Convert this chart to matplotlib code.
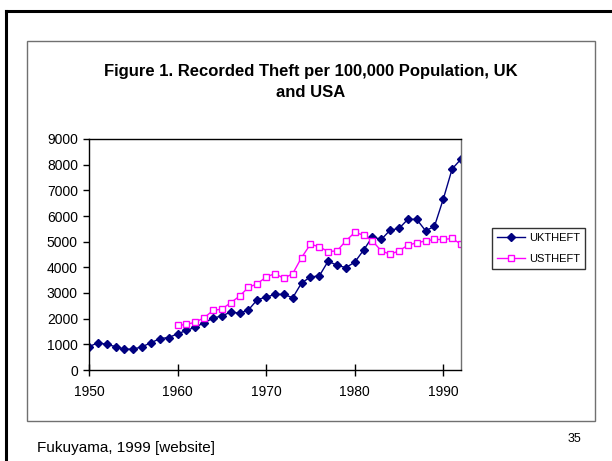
import matplotlib
matplotlib.use("Agg")
import matplotlib.pyplot as plt
from matplotlib.lines import Line2D
from matplotlib.patches import Rectangle

plt.rcParams['font.family'] = ['Liberation Sans', 'DejaVu Sans']

# data
uk_years = list(range(1950, 1993))
uk_theft = [910, 1060, 1000, 910, 810, 810, 910, 1060, 1225, 1265,
            1410, 1540, 1670, 1840, 2020, 2110, 2255, 2215, 2340, 2740,
            2840, 2945, 2945, 2815, 3390, 3625, 3665, 4240, 4080, 3990,
            4200, 4670, 5190, 5085, 5450, 5515, 5870, 5870, 5425, 5595,
            6660, 7835, 8215]
us_years = list(range(1960, 1993))
us_theft = [1735, 1775, 1865, 2035, 2320, 2375, 2620, 2880, 3220, 3360,
            3625, 3755, 3570, 3755, 4380, 4900, 4800, 4615, 4640, 5030,
            5360, 5255, 5030, 4640, 4510, 4640, 4865, 4955, 5030, 5085,
            5085, 5125, 4900]
x_ticks = [1950, 1960, 1970, 1980, 1990]
y_ticks = list(range(0, 9001, 1000))

W, H = 612, 461
fig = plt.figure(figsize=(W / 100, H / 100), dpi=100)

def fx(px):
    return px / W

def fy(py):
    return 1 - py / H

# slide frame (open on right and bottom)
fig.add_artist(Line2D([fx(6), fx(6)], [fy(11), 0], color='black', lw=2.2,
                      transform=fig.transFigure))
fig.add_artist(Line2D([fx(6), 1], [fy(11), fy(11)], color='black', lw=2.2,
                      transform=fig.transFigure))
# chart area box
fig.add_artist(Rectangle((fx(27), fy(421)), fx(595) - fx(27), fy(41) - fy(421),
                         fill=False, edgecolor='#707070', lw=1,
                         transform=fig.transFigure))

ax = fig.add_axes([fx(89), fy(370), fx(461) - fx(89), fy(139) - fy(370)])
ax.plot(uk_years, uk_theft, color='#000080', lw=1, marker='D', markersize=4.5,
        markerfacecolor='#000080', markeredgecolor='#000080', label='UKTHEFT')
ax.plot(us_years, us_theft, color='#FF00FF', lw=1, marker='s', markersize=4.8,
        markerfacecolor='white', markeredgecolor='#FF00FF', markeredgewidth=1,
        label='USTHEFT')

ax.set_xlim(1950, 1992)
ax.set_ylim(0, 9000)
ax.set_xticks(x_ticks)
ax.set_yticks(y_ticks)
ax.tick_params(axis='x', direction='inout', length=9, width=1, labelsize=10, pad=6)
ax.tick_params(axis='y', direction='out', length=4, width=1, labelsize=10, pad=4)
for s in ['left', 'bottom', 'top']:
    ax.spines[s].set_color('black')
    ax.spines[s].set_linewidth(1)
ax.spines['right'].set_color('#707070')
ax.spines['right'].set_linewidth(1)

fig.text(fx(311), fy(76), 'Figure 1. Recorded Theft per 100,000 Population, UK',
         ha='center', va='baseline', fontsize=12, fontweight='bold')
fig.text(fx(311), fy(97), 'and USA', ha='center', va='baseline',
         fontsize=12, fontweight='bold')

leg = fig.legend(loc='upper left', bbox_to_anchor=(fx(492), fy(228)),
                 borderaxespad=0, fontsize=8, frameon=True, fancybox=False,
                 handlelength=2.5, handletextpad=0.4, borderpad=0.45,
                 labelspacing=1.0)
leg.get_frame().set_edgecolor('black')
leg.get_frame().set_linewidth(1)

fig.text(fx(37), fy(452), 'Fukuyama, 1999 [website]', ha='left',
         va='baseline', fontsize=11)
fig.text(fx(581), fy(442), '35', ha='right', va='baseline', fontsize=9)

fig.savefig('out.png', dpi=100)
